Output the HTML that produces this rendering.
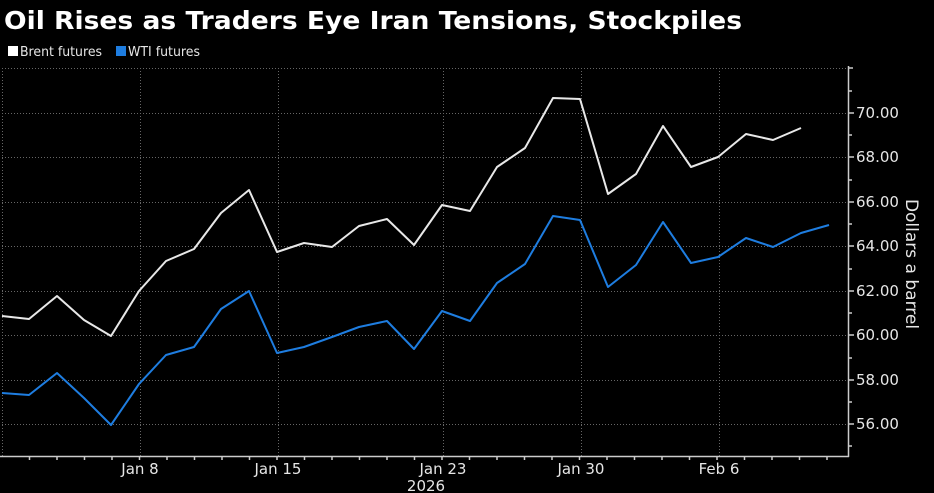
<!DOCTYPE html>
<html><head><meta charset="utf-8"><style>
html,body{margin:0;padding:0;background:#000;}
svg{display:block;}
text{font-family:"DejaVu Sans","Liberation Sans",sans-serif;fill:#e6e6e6;}
</style></head><body>
<svg width="934" height="493" viewBox="0 0 934 493" xmlns="http://www.w3.org/2000/svg">
<rect width="934" height="493" fill="#000"/>
<text x="4" y="29" font-size="25" font-weight="bold" fill="#fff" textLength="738" lengthAdjust="spacingAndGlyphs" style="fill:#fff">Oil Rises as Traders Eye Iran Tensions, Stockpiles</text>
<rect x="8" y="46" width="10" height="10" fill="#fff"/>
<text x="20" y="56" font-size="13" textLength="82" lengthAdjust="spacingAndGlyphs">Brent futures</text>
<rect x="116" y="46" width="10" height="10" fill="#1e7de0"/>
<text x="128" y="56" font-size="13" textLength="72" lengthAdjust="spacingAndGlyphs">WTI futures</text>
<g stroke="#666" stroke-width="1" stroke-dasharray="1,2">
<line x1="2" y1="68.5" x2="848" y2="68.5"/>
<line x1="2" y1="113.5" x2="848" y2="113.5"/>
<line x1="2" y1="157.5" x2="848" y2="157.5"/>
<line x1="2" y1="202.5" x2="848" y2="202.5"/>
<line x1="2" y1="246.5" x2="848" y2="246.5"/>
<line x1="2" y1="291.5" x2="848" y2="291.5"/>
<line x1="2" y1="335.5" x2="848" y2="335.5"/>
<line x1="2" y1="380.5" x2="848" y2="380.5"/>
<line x1="2" y1="424.5" x2="848" y2="424.5"/>
<line x1="2.5" y1="68" x2="2.5" y2="456"/>
<line x1="140.5" y1="68" x2="140.5" y2="456"/>
<line x1="278.5" y1="68" x2="278.5" y2="456"/>
<line x1="443.5" y1="68" x2="443.5" y2="456"/>
<line x1="581.5" y1="68" x2="581.5" y2="456"/>
<line x1="719.5" y1="68" x2="719.5" y2="456"/>
</g>
<g stroke="#ccc" stroke-width="1.5" fill="none">
<line x1="0" y1="456.5" x2="849" y2="456.5"/>
<line x1="848.5" y1="66" x2="848.5" y2="457"/>
<line x1="848" y1="68" x2="853" y2="68"/>
<path d="M848 91h4M848 113h6M848 135h4M848 157h6M848 180h4M848 202h6M848 224h4M848 246h6M848 269h4M848 291h6M848 313h4M848 335h6M848 358h4M848 380h6M848 402h4M848 424h6M848 446h4"/>
<path d="M29.5 456v4M57 456v4M84.5 456v4M112 456v4M139.5 456v4M167 456v4M194.5 456v4M222 456v4M249.5 456v4M277 456v4M304.5 456v4M332 456v4M359.5 456v4M387 456v4M414.5 456v4M442 456v4M469.5 456v4M497 456v4M524.5 456v4M552 456v4M579.5 456v4M607 456v4M634.5 456v4M662 456v4M689.5 456v4M717 456v4M744.5 456v4M772 456v4M799.5 456v4M827 456v4"/>
</g>
<g font-size="15">
<text x="856" y="118">70.00</text>
<text x="856" y="162">68.00</text>
<text x="856" y="207">66.00</text>
<text x="856" y="251">64.00</text>
<text x="856" y="296">62.00</text>
<text x="856" y="340">60.00</text>
<text x="856" y="385">58.00</text>
<text x="856" y="429">56.00</text>
</g>
<text transform="translate(906,264) rotate(90)" font-size="17" text-anchor="middle">Dollars a barrel</text>
<g font-size="15" text-anchor="middle">
<text x="140" y="474">Jan 8</text>
<text x="278" y="474">Jan 15</text>
<text x="443" y="474">Jan 23</text>
<text x="581" y="474">Jan 30</text>
<text x="719" y="474">Feb 6</text>
<text x="426" y="491">2026</text>
</g>
<polyline fill="none" stroke="#e8e8e8" stroke-width="2" stroke-linejoin="round" points="2,316 29,319 57,296 84,320 111,336 139,291 166,261 194,249 221,213 249,190 277,252 304,243 332,247 359,226 387,219 414,245 442,205 470,211 497,167 525,148 553,98 580,99 608,194 636,174 663,126 691,167 718,157 746,134 773,140 801,128"/>
<polyline fill="none" stroke="#1e7de0" stroke-width="2" stroke-linejoin="round" points="2,393 29,395 57,373 84,398 111,425 139,384 166,355 194,347 221,309 249,291 277,353 304,347 332,337 359,327 387,321 414,349 442,311 470,321 497,283 525,264 553,216 580,220 608,287 636,265 663,222 691,263 718,257 746,238 773,247 801,233 829,225"/>
</svg>
</body></html>
